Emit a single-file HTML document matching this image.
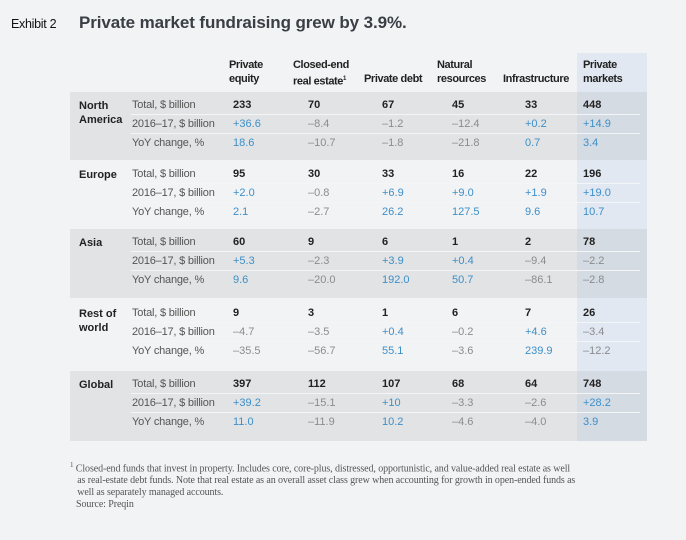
<!DOCTYPE html>
<html><head><meta charset="utf-8"><style>
body{margin:0;width:686px;height:540px;background:#fff;font-family:"Liberation Sans",sans-serif;overflow:hidden}
#page{position:absolute;left:0;top:0;width:686px;height:540px;background:#f2f3f4}
.a{position:absolute;white-space:nowrap}
.title{font-size:17px;font-weight:bold;color:#3a3f45;left:79px;top:13px;letter-spacing:-0.1px}
.ex{font-size:12.5px;color:#111;left:11px;top:17px;letter-spacing:-0.3px}
.hd{font-size:11px;font-weight:bold;color:#222;line-height:14px;letter-spacing:-0.4px}
.rl{font-size:11px;color:#555;letter-spacing:-0.2px}
.gl{font-size:11px;font-weight:bold;color:#222;line-height:14px}
.v{font-size:11px}
.fn{font-family:"Liberation Serif",serif;font-size:10px;color:#555;line-height:12px;letter-spacing:-0.1px}
</style></head><body>
<div id="page">
<div class="a ex">Exhibit 2</div>
<div class="a title">Private market fundraising grew by 3.9%.</div>
<div id="tbl"></div>
<div class="a fn" style="left:70px;top:459px;width:610px;white-space:normal"><sup style="font-size:7px">1</sup> Closed-end funds that invest in property. Includes core, core-plus, distressed, opportunistic, and value-added real estate as well<br>&nbsp;&nbsp;&nbsp;as real-estate debt funds. Note that real estate as an overall asset class grew when accounting for growth in open-ended funds as<br>&nbsp;&nbsp;&nbsp;well as separately managed accounts.</div>
<div class="a fn" style="left:76px;top:499px">Source: Preqin</div>
</div>
<script>
const columns=["Private<br>equity","Closed-end<br>real estate<sup style='font-size:6px'>1</sup>","Private debt","Natural<br>resources","Infrastructure","Private<br>markets"];
const regions=["North<br>America","Europe","Asia","Rest of<br>world","Global"];
const rowLabels=["Total, $ billion","2016–17, $ billion","YoY change, %"];
const totals=[[233,70,67,45,33,448],[95,30,33,16,22,196],[60,9,6,1,2,78],[9,3,1,6,7,26],[397,112,107,68,64,748]];
const changes=[["+36.6","–8.4","–1.2","–12.4","+0.2","+14.9"],["+2.0","–0.8","+6.9","+9.0","+1.9","+19.0"],["+5.3","–2.3","+3.9","+0.4","–9.4","–2.2"],["–4.7","–3.5","+0.4","–0.2","+4.6","–3.4"],["+39.2","–15.1","+10","–3.3","–2.6","+28.2"]];
const yoy=[["18.6","–10.7","–1.8","–21.8","0.7","3.4"],["2.1","–2.7","26.2","127.5","9.6","10.7"],["9.6","–20.0","192.0","50.7","–86.1","–2.8"],["–35.5","–56.7","55.1","–3.6","239.9","–12.2"],["11.0","–11.9","10.2","–4.6","–4.0","3.9"]];
const colX=[229,293,364,437,503,583];
const groupTop=[92,161,229,300,371], groupH=[68,66,69,68,70];
const t=document.getElementById('tbl');
function el(cls,x,y,html,name){const d=document.createElement('div');d.className='a '+cls;d.style.left=x+'px';d.style.top=y+'px';d.innerHTML=html;


t.appendChild(d);return d;}
const hc=document.createElement('div');hc.className='a';hc.style.cssText='left:577px;top:53px;width:70px;height:388px;background:#e1e8f1';


t.appendChild(hc);
regions.forEach((r,g)=>{
 if(g%2===0){const b=document.createElement('div');b.className='a';b.style.cssText=`left:70px;top:${groupTop[g]}px;width:507px;height:${groupH[g]}px;background:#e2e3e4`;
 
 
 t.appendChild(b);
 const b2=document.createElement('div');b2.className='a';b2.style.cssText=`left:577px;top:${groupTop[g]}px;width:70px;height:${groupH[g]}px;background:#d5dbe3`;
 
 
 t.appendChild(b2);}
});
columns.forEach((c,i)=>{const y=c.includes('<br>')?58:72;el('hd',colX[i],y,c,'column-header');});
regions.forEach((r,g)=>{
 const y0=groupTop[g]+7;
 el('gl',79,y0,r,'region-label');
 for(let k=0;k<3;k++){
  const y=y0+k*19;
  el('rl',132,y,rowLabels[k],'row-label');
  if(k>0){const l=document.createElement('div');l.className='a';l.style.cssText=`left:131px;top:${y-4}px;width:509px;height:1px;background:#f4f5f6`;
  
  
  t.appendChild(l);}
  for(let i=0;i<6;i++){
   let v,st;
   if(k===0){v=totals[g][i];st='font-weight:bold;color:#222';}
   else{v=(k===1?changes:yoy)[g][i];st=String(v).startsWith('–')?'color:#8a8c8e':'color:#3d8fc8';}
   const x=[233,308,382,452,525,583][i];
   const d=el('v',x,y,v,'cell-value');d.style.cssText+=';'+st;
  }
 }
});
</script>
</body></html>
